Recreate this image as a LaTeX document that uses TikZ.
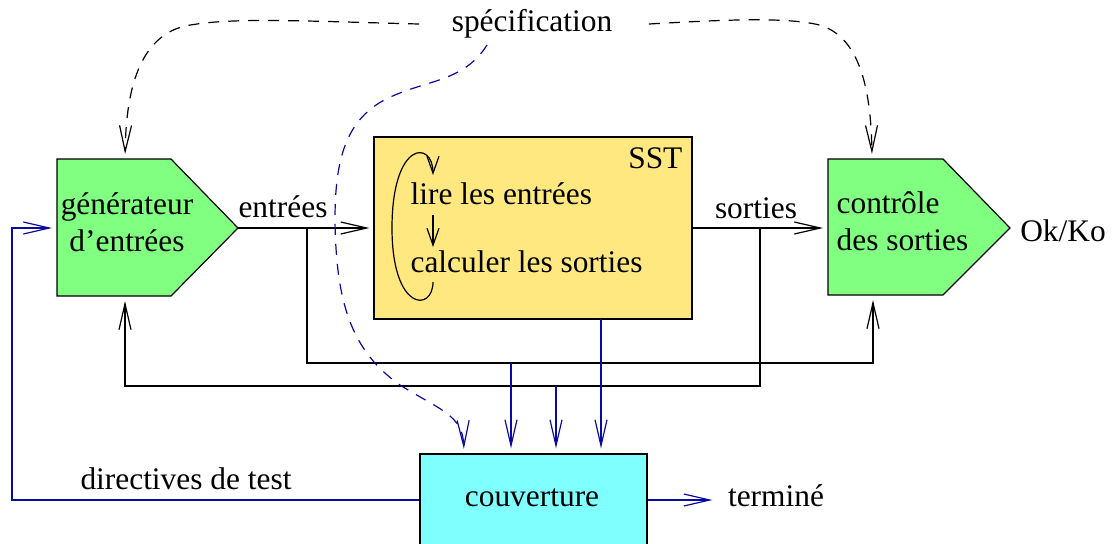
\documentclass[tikz,border=0pt]{standalone}
\usepackage{fontspec}
\setmainfont{Liberation Serif}
\usetikzlibrary{arrows.meta,calc}
\definecolor{dblue}{RGB}{10,10,160}
\definecolor{gfill}{RGB}{128,255,128}
\definecolor{yfill}{RGB}{255,232,128}
\definecolor{cfill}{RGB}{128,255,255}
\begin{document}
\begin{tikzpicture}[x=0.5pt,y=-0.5pt,line width=0.6pt,
  txt/.style={inner sep=0pt,font=\fontsize{15.7}{18.5}\selectfont},
  bar/.style={-{Straight Barb[length=13pt,width=6pt]}},
  sbar/.style={-{Straight Barb[length=8.5pt,width=6pt]}},
  dsh/.style={dash pattern=on 5.5pt off 4.5pt},
  penta/.style={draw,fill=gfill},
  boxnode/.style={draw,inner sep=0pt}]
\useasboundingbox (0,0) rectangle (1112,543);

% pentagons
\draw[penta] (57,159) -- (171,159) -- (238,228) -- (171,296) -- (57,296) -- cycle;
\draw[penta] (828,159) -- (943,159) -- (1010,228) -- (943,295) -- (828,295) -- cycle;
\coordinate (gW) at (57,228);
\coordinate (gN) at (125,159);
\coordinate (gS) at (125,296);
\coordinate (gE) at (238,228);
\coordinate (cW) at (828,228);
\coordinate (cN) at (872,159);
\coordinate (cS) at (873,295);

% boxes
\node[boxnode,fill=yfill,minimum width=159pt,minimum height=91pt] (sst) at (533,228) {};
\node[boxnode,fill=cfill,minimum width=113.5pt,minimum height=46pt] (cov) at (533.5,500) {};

% texts
\node[txt] (spec) at (532,24) {spécification};
\node[txt,align=center] (gtxt) at (127,222) {générateur\\d’entrées};
\node[txt,align=left,anchor=west] (ctxt) at (836,221) {contrôle\\des sorties};
\node[txt] (ent) at (283,207) {entrées};
\node[txt] (sor) at (756,208) {sorties};
\node[txt] (ok) at (1063,231) {Ok/Ko};
\node[txt,anchor=north east] (ssttxt) at (683,147) {SST};
\node[txt,anchor=west] (lire) at (410,194) {lire les entrées};
\node[txt,anchor=west] (calc) at (410,262) {calculer les sorties};
\node[txt] (covt) at (532,497.5) {couverture};
\node[txt] (dir) at (186,479) {directives de test};
\node[txt] (term) at (776,496) {terminé};

% SST inner loop
\coordinate (l1) at (433,215);
\coordinate (l2) at (433,247);
\draw[sbar] (l1) -- (l2);
\draw[sbar] (433,282) .. controls (433,312) and (392,312) .. (392,228)
  .. controls (392,140) and (433,140) .. (433,175);

% main flow
\draw[bar,shorten >=2pt] (gE) -- (sst.west);
\draw[bar,shorten >=2.5pt] (sst.east) -- (cW);

% taps
\coordinate (t1) at (307,228);
\coordinate (j1) at (873,363);
\coordinate (t2) at (760,228);
\coordinate (j2) at (125,386);
\draw[bar,shorten >=2.5pt] (t1) |- (j1) -- (cS);
\draw[bar,shorten >=2.5pt] (t2) |- (j2) -- (gS);

% specification dashed
\draw[bar,dsh,shorten >=2.5pt] ($(spec.west)+(-32,0)$) .. controls (300,21) and (230,17) .. (185,26)
  .. controls (135,38) and (126,100) .. (gN);
\draw[bar,dsh,shorten >=2.5pt] ($(spec.east)+(36,0)$) .. controls (720,20) and (780,17) .. (815,24)
  .. controls (860,33) and (871,90) .. (cN);
\coordinate (sb) at (487,45);
\coordinate (cd) at (464,454);
\draw[bar,dsh,dblue,shorten >=2.5pt] (sb) .. controls (465,80) and (430,80) .. (395,95)
  .. controls (345,115) and (335,160) .. (335,220)
  .. controls (336,300) and (350,350) .. (400,385)
  .. controls (440,410) and (463,415) .. (cd);

% blue arrows to couverture
\coordinate (b1) at (511,363);
\coordinate (b2) at (556,386);
\coordinate (b3) at (601,319);
\draw[bar,dblue,shorten >=2.5pt] (b1) -- (b1 |- cov.north);
\draw[bar,dblue,shorten >=2.5pt] (b2) -- (b2 |- cov.north);
\draw[bar,dblue,shorten >=2.5pt] (b3) -- (b3 |- cov.north);

% feedback and output
\coordinate (fb) at (12,228);
\draw[bar,dblue,shorten >=2.5pt] (cov.west) -| (fb) -- (gW);
\draw[bar,dblue,shorten >=7.5pt] (cov.east) -- (cov.east -| term.west);
\end{tikzpicture}
\end{document}
